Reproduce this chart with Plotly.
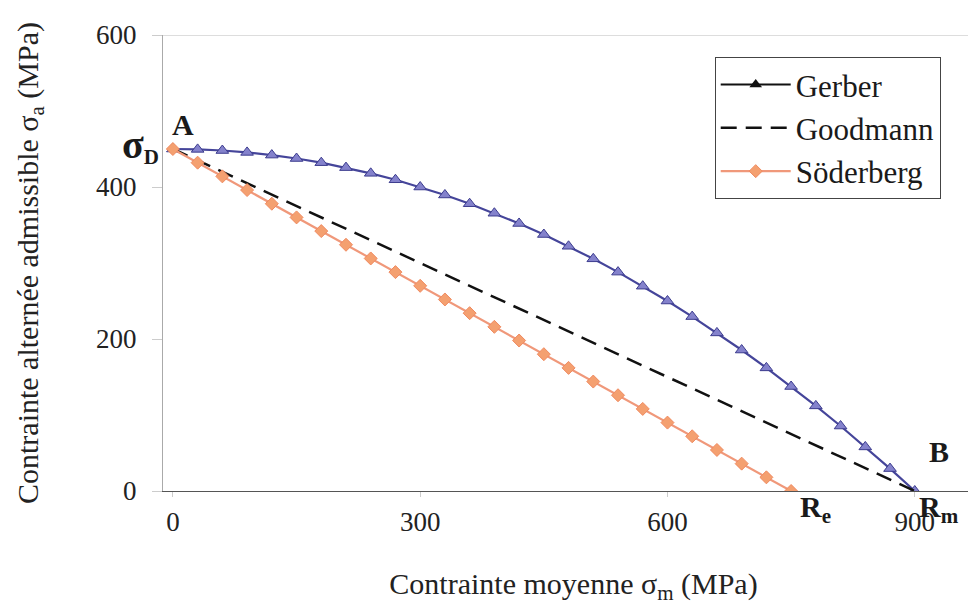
import plotly.graph_objects as go

# Data (MPa)
gerber_x = [0, 30, 60, 90, 120, 150, 180, 210, 240, 270, 300, 330, 360, 390, 420,
            450, 480, 510, 540, 570, 600, 630, 660, 690, 720, 750, 780, 810, 840, 870, 900]
gerber_y = [450, 449.5, 448, 445.5, 442, 437.5, 432, 425.5, 418, 409.5, 400, 389.5, 378,
            365.5, 352, 337.5, 322, 305.5, 288, 269.5, 250, 229.5, 208, 185.5, 162, 137.5,
            112, 85.5, 58, 29.5, 0]
goodman_x = [0, 900]
goodman_y = [450, 0]
soder_x = [0, 30, 60, 90, 120, 150, 180, 210, 240, 270, 300, 330, 360, 390, 420, 450,
           480, 510, 540, 570, 600, 630, 660, 690, 720, 750]
soder_y = [450, 432, 414, 396, 378, 360, 342, 324, 306, 288, 270, 252, 234, 216, 198, 180,
           162, 144, 126, 108, 90, 72, 54, 36, 18, 0]

x_ticks = [0, 300, 600, 900]
y_ticks = [0, 200, 400, 600]

FONT = "Liberation Serif, Times New Roman, serif"
XR = [-12, 984]

fig = go.Figure()
fig.add_trace(go.Scatter(
    x=gerber_x, y=gerber_y, name="Gerber", mode="lines+markers", showlegend=False,
    line=dict(color="#45459a", width=2.2),
    marker=dict(symbol="triangle-up", size=11, color="#8482cc",
                line=dict(color="#3c3c8e", width=1)),
))
# legend sample for Gerber (black, as in the reference legend)
fig.add_trace(go.Scatter(
    x=[None], y=[None], name="Gerber", mode="lines+markers",
    line=dict(color="#111111", width=2),
    marker=dict(symbol="triangle-up", size=11, color="#111111"),
))
fig.add_trace(go.Scatter(
    x=goodman_x, y=goodman_y, name="Goodmann", mode="lines",
    line=dict(color="#111111", width=2.5, dash="16px,9px"),
))
fig.add_trace(go.Scatter(
    x=soder_x, y=soder_y, name="Söderberg", mode="lines+markers",
    line=dict(color="#f0987a", width=2.2),
    marker=dict(symbol="diamond", size=10, color="#f4a070",
                line=dict(color="#f08a60", width=1)),
))

# top border line at 600
fig.add_shape(type="line", xref="paper", yref="y", x0=0, x1=1, y0=600, y1=600,
              line=dict(color="#bbbbbb", width=1))

ann_font = dict(family=FONT, size=30, color="#1a1a1a")

def px(xd):
    return (xd - XR[0]) / (XR[1] - XR[0])

fig.add_annotation(x=12, y=482, text="<b>A</b>", showarrow=False, font=ann_font)
fig.add_annotation(x=px(-14), y=455 / 600, xref="paper", yref="paper",
                   text="<b><span style='font-size:40px'>σ</span><sub>D</sub></b>",
                   showarrow=False, font=ann_font, xanchor="right", yanchor="middle")
fig.add_annotation(x=930, y=52, text="<b>B</b>", showarrow=False, font=ann_font)
fig.add_annotation(x=929, y=-24 / 600, xref="x", yref="paper",
                   text="<b>R<sub>m</sub></b>", showarrow=False, font=ann_font,
                   xanchor="center", yanchor="middle")
fig.add_annotation(x=780, y=-24 / 600, xref="x", yref="paper",
                   text="<b>R<sub>e</sub></b>", showarrow=False, font=ann_font,
                   xanchor="center", yanchor="middle")

fig.update_layout(
    width=976, height=606,
    margin=dict(l=155, r=0, t=27, b=123),
    paper_bgcolor="white", plot_bgcolor="white",
    font=dict(family=FONT, size=27, color="#222222"),
    showlegend=True,
    legend=dict(
        x=0.672, y=0.952, xanchor="left", yanchor="top",
        bgcolor="white", bordercolor="#444444", borderwidth=1,
        font=dict(family=FONT, size=31, color="#1a1a1a"),
        itemwidth=70,
    ),
    xaxis=dict(
        range=XR, tickvals=x_ticks, ticktext=[str(v) for v in x_ticks],
        showgrid=False, zeroline=False, showline=True, linecolor="#555555", linewidth=1,
        ticks="outside", ticklen=5, tickcolor="#cccccc", ticklabelstandoff=2,
        tickfont=dict(family=FONT, size=27),
        title=dict(text="Contrainte moyenne σ<sub>m</sub> (MPa)", standoff=36,
                   font=dict(family=FONT, size=30)),
    ),
    yaxis=dict(
        range=[0, 600], tickvals=y_ticks, ticktext=[str(v) for v in y_ticks],
        showgrid=False, zeroline=False, showline=True, linecolor="#aaaaaa", linewidth=1,
        ticks="outside", ticklen=10, tickcolor="#cccccc", ticklabelstandoff=10,
        tickfont=dict(family=FONT, size=27),
        title=dict(text="Contrainte alternée admissible σ<sub>a</sub> (MPa)", standoff=48,
                   font=dict(family=FONT, size=30)),
    ),
)

fig.write_html("out.html")
